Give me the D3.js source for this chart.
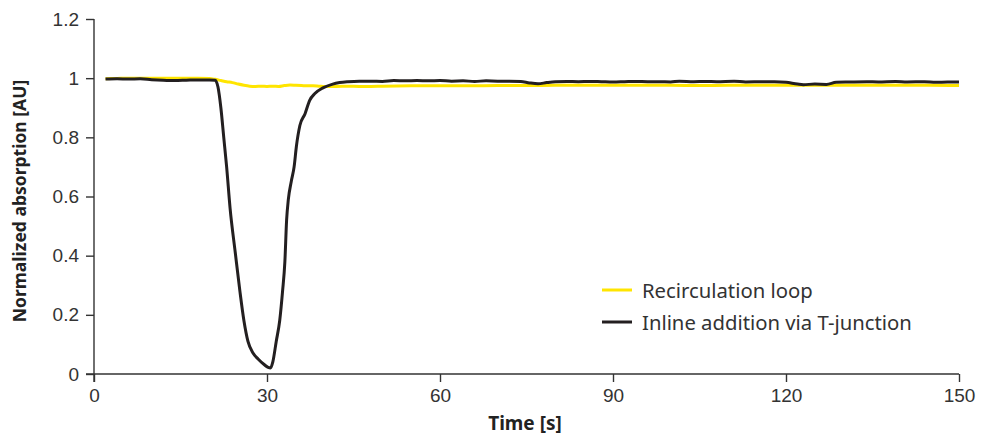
<!DOCTYPE html>
<html>
<head>
<meta charset="utf-8">
<script src="https://cdn.jsdelivr.net/npm/d3@7"></script>
<style>
  body { margin: 0; background: #fff; }
  svg { font-family: "Noto Sans", "Open Sans", sans-serif; }
  .axis path, .axis line { stroke: #333; stroke-width: 1.4; }
  .axis text { fill: #333; font-size: 19px; }
</style>
</head>
<body>
<svg width="990" height="437"></svg>
<script>
// time [s] and normalized absorption
var recircTime  = [2, 4, 6, 8, 10, 12, 14, 16, 18, 20, 21, 22, 23, 24, 25, 26, 27, 28, 29, 30, 31, 32, 33, 34, 35, 36, 37, 38, 39, 40, 42, 44, 46, 48, 50, 55, 60, 65, 70, 75, 80, 85, 90, 95, 100, 105, 110, 115, 120, 125, 130, 135, 140, 145, 150];
var recircValue = [0.998, 0.999, 1.0, 1.0, 1.0, 1.0, 1.0, 1.0, 1.0, 0.999, 0.996, 0.992, 0.988, 0.985, 0.980, 0.976, 0.973, 0.972, 0.973, 0.972, 0.973, 0.972, 0.975, 0.977, 0.976, 0.975, 0.974, 0.974, 0.973, 0.972, 0.972, 0.973, 0.972, 0.972, 0.973, 0.974, 0.974, 0.974, 0.975, 0.975, 0.976, 0.976, 0.976, 0.976, 0.976, 0.975, 0.976, 0.976, 0.976, 0.976, 0.976, 0.976, 0.976, 0.976, 0.975];

var inlineTime  = [2, 4, 6, 8, 10, 12, 14, 16, 18, 20, 21, 21.5, 22, 22.5, 23, 23.6, 24.5, 25.3, 26, 26.7, 27.6, 28.5, 29.5, 30.2, 30.6, 31, 31.6, 32.2, 32.7, 33.1, 33.4, 33.7, 34.2, 34.7, 35.1, 35.7, 36.6, 37.4, 38.3, 39.7, 41.4, 42.6, 44, 46, 48, 50, 52, 54, 56, 58, 60, 62, 64, 66, 68, 70, 72, 74, 75.5, 77, 78.5, 80, 82, 84, 86, 88, 90, 92, 94, 96, 98, 100, 101.5, 104, 106, 108, 111, 113, 116, 118, 120, 122, 123, 125, 127, 128.7, 131, 134, 136, 139, 141, 144, 146, 148, 150];
var inlineValue = [0.997, 0.998, 0.997, 0.998, 0.995, 0.993, 0.992, 0.993, 0.994, 0.994, 0.993, 0.97, 0.90, 0.80, 0.70, 0.56, 0.41, 0.28, 0.18, 0.11, 0.07, 0.05, 0.032, 0.022, 0.02, 0.04, 0.11, 0.18, 0.28, 0.38, 0.52, 0.59, 0.65, 0.70, 0.77, 0.84, 0.88, 0.925, 0.948, 0.967, 0.98, 0.985, 0.988, 0.990, 0.990, 0.989, 0.992, 0.991, 0.992, 0.991, 0.992, 0.990, 0.991, 0.989, 0.991, 0.990, 0.990, 0.989, 0.984, 0.981, 0.985, 0.988, 0.989, 0.988, 0.989, 0.988, 0.987, 0.988, 0.989, 0.988, 0.988, 0.987, 0.990, 0.988, 0.989, 0.988, 0.990, 0.987, 0.988, 0.988, 0.986, 0.980, 0.978, 0.980, 0.979, 0.986, 0.987, 0.988, 0.987, 0.989, 0.987, 0.988, 0.986, 0.987, 0.987];

var seriesNames = ["Recirculation loop", "Inline addition via T-junction"];
var seriesColors = ["#ffe500", "#231f20"];
var xTicks = [0, 30, 60, 90, 120, 150];
var yTicks = [0, 0.2, 0.4, 0.6, 0.8, 1, 1.2];

var svg = d3.select("svg"),
    margin = {top: 19, right: 31, bottom: 63, left: 94},
    width = +svg.attr("width") - margin.left - margin.right,
    height = +svg.attr("height") - margin.top - margin.bottom;

var g = svg.append("g").attr("transform", "translate(" + margin.left + "," + margin.top + ")");

var x = d3.scaleLinear().domain([0, 150]).range([0, width]);
var y = d3.scaleLinear().domain([0, 1.2]).range([height, 0]);

var line = d3.line()
    .x(function (d) { return x(d[0]); })
    .y(function (d) { return y(d[1]); })
    .curve(d3.curveMonotoneX);

var xAxis = g.append("g")
    .attr("class", "axis")
    .attr("transform", "translate(0," + height + ")")
    .call(d3.axisBottom(x).tickValues(xTicks).tickSize(8).tickPadding(4).tickSizeOuter(0));
// axis line runs a bit past the y axis
xAxis.select(".domain").attr("d", "M-8,0H" + width);
xAxis.selectAll("text").attr("dy", "0.85em");

var yAxis = g.append("g")
    .attr("class", "axis")
    .call(d3.axisLeft(y).tickValues(yTicks).tickFormat(function (d) { return d3.format("")(d); }).tickSize(8).tickPadding(7).tickSizeOuter(0));
yAxis.select(".domain").attr("d", "M0,0V" + (height + 8));

var recirc = recircTime.map(function (t, i) { return [t, recircValue[i]]; });
var inline = inlineTime.map(function (t, i) { return [t, inlineValue[i]]; });

g.append("path")
    .datum(recirc)
    .attr("fill", "none")
    .attr("stroke", seriesColors[0])
    .attr("stroke-width", 3)
    .attr("stroke-linejoin", "round")
    .attr("d", line);

g.append("path")
    .datum(inline)
    .attr("fill", "none")
    .attr("stroke", seriesColors[1])
    .attr("stroke-width", 3)
    .attr("stroke-linejoin", "round")
    .attr("d", line);

// axis titles
svg.append("text")
    .attr("x", 525)
    .attr("y", 430)
    .attr("text-anchor", "middle")
    .style("font-size", "19px")
    .style("font-weight", "bold")
    .style("fill", "#222")
    .text("Time [s]");

svg.append("text")
    .attr("transform", "translate(26,201) rotate(-90)")
    .attr("text-anchor", "middle")
    .style("font-size", "17.5px")
    .style("font-weight", "bold")
    .style("fill", "#222")
    .text("Normalized absorption [AU]");

// legend
var legend = svg.append("g").attr("transform", "translate(602,290)");
seriesNames.forEach(function (name, i) {
    var row = legend.append("g").attr("transform", "translate(0," + (i * 32) + ")");
    row.append("line")
        .attr("x1", 0).attr("x2", 30)
        .attr("stroke", seriesColors[i])
        .attr("stroke-width", 3);
    row.append("text")
        .attr("x", 40)
        .attr("y", 8)
        .style("font-size", "20.3px")
        .style("fill", "#333")
        .text(name);
});
</script>
</body>
</html>
